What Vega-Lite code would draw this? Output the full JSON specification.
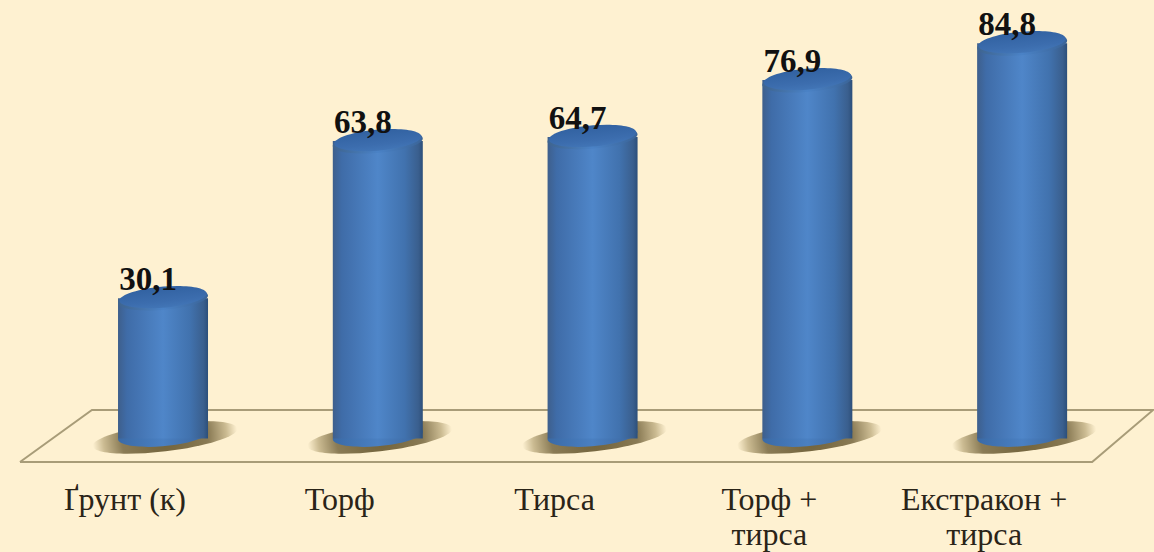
{
  "$schema": "https://vega.github.io/schema/vega-lite/v6.json",
  "width": 1154,
  "height": 552,
  "autosize": {"type": "none"},
  "padding": 0,
  "background": "#fef1d1",
  "config": {"view": {"stroke": null}},
  "datasets": {
    "bars": [
      {"category": "Ґрунт (к)", "pos": 0, "value": 30.1, "label": "30,1"},
      {"category": "Торф", "pos": 1, "value": 63.8, "label": "63,8"},
      {"category": "Тирса", "pos": 2, "value": 64.7, "label": "64,7"},
      {"category": "Торф +\nтирса", "pos": 3, "value": 76.9, "label": "76,9"},
      {"category": "Екстракон +\nтирса", "pos": 4, "value": 84.8, "label": "84,8"}
    ],
    "floor": [
      {"pos": -0.666, "level": -5.06, "step": 0},
      {"pos": 4.326, "level": -5.06, "step": 1},
      {"pos": 4.61, "level": 6.09, "step": 2},
      {"pos": -0.331, "level": 6.09, "step": 3},
      {"pos": -0.666, "level": -5.06, "step": 4}
    ]
  },
  "layer": [
    {
      "data": {"name": "floor"},
      "mark": {"type": "line", "color": "#a89c78", "strokeWidth": 2},
      "encoding": {
        "x": {"field": "pos", "type": "quantitative", "axis": null, "scale": {"domain": [-0.759, 4.614], "nice": false, "zero": false, "padding": 0}},
        "y": {"field": "level", "type": "quantitative", "axis": null, "scale": {"domain": [-24.38, 94.08], "nice": false, "zero": false, "padding": 0}},
        "order": {"field": "step", "type": "quantitative"}
      }
    },
    {
      "data": {"name": "bars"},
      "mark": {
        "type": "point", "filled": true, "opacity": 1, "size": 21000, "xOffset": 2, "yOffset": -1,
        "shape": "M-1,0.12 A1,0.19,-7,1,1,1,-0.12 A1,0.19,-7,1,1,-1,0.12 Z",
        "fill": {"gradient": "radial", "stops": [
          {"offset": 0, "color": "#6f6038"},
          {"offset": 0.6, "color": "#8a7b55"},
          {"offset": 0.85, "color": "#cbbb92"},
          {"offset": 1, "color": "#fef1d1"}
        ]}
      },
      "encoding": {
        "x": {"field": "pos", "type": "quantitative"},
        "y": {"datum": 0}
      }
    },
    {
      "data": {"name": "bars"},
      "mark": {
        "type": "point", "filled": true, "opacity": 1, "size": 8100, "yOffset": -3,
        "shape": "M-1,0.08 A1,0.24,-5,1,1,1,-0.08 A1,0.24,-5,1,1,-1,0.08 Z",
        "fill": {"gradient": "linear", "x1": 0, "x2": 1, "y1": 0, "y2": 0, "stops": [
          {"offset": 0, "color": "#3a6aa6"},
          {"offset": 0.5, "color": "#4a80c2"},
          {"offset": 1, "color": "#3a659c"}
        ]}
      },
      "encoding": {
        "x": {"field": "pos", "type": "quantitative"},
        "y": {"datum": 0}
      }
    },
    {
      "data": {"name": "bars"},
      "mark": {
        "type": "bar", "orient": "vertical", "width": 90,
        "fill": {"gradient": "linear", "x1": 0, "x2": 1, "y1": 0, "y2": 0, "stops": [
          {"offset": 0, "color": "#3e5f8c"},
          {"offset": 0.1, "color": "#3f6ca8"},
          {"offset": 0.5, "color": "#4f86c9"},
          {"offset": 0.8, "color": "#4172ae"},
          {"offset": 0.95, "color": "#3a5f8e"},
          {"offset": 1, "color": "#2c4f7a"}
        ]}
      },
      "encoding": {
        "x": {"field": "pos", "type": "quantitative"},
        "y": {"field": "value", "type": "quantitative"},
        "y2": {"datum": 0}
      }
    },
    {
      "data": {"name": "bars"},
      "mark": {
        "type": "point", "filled": true, "opacity": 1, "size": 8100, "yOffset": 1,
        "shape": "M-1,0.08 A1,0.24,-5,1,1,1,-0.08 A1,0.24,-5,1,1,-1,0.08 Z",
        "fill": {"gradient": "linear", "x1": 0, "x2": 1, "y1": 0, "y2": 0, "stops": [
          {"offset": 0, "color": "#3e648f"},
          {"offset": 0.5, "color": "#4a82c6"},
          {"offset": 1, "color": "#3a6498"}
        ]}
      },
      "encoding": {
        "x": {"field": "pos", "type": "quantitative"},
        "y": {"field": "value", "type": "quantitative"}
      }
    },
    {
      "data": {"name": "bars"},
      "mark": {
        "type": "point", "filled": true, "opacity": 1, "size": 7600, "yOffset": -1,
        "shape": "M-1,0.08 A1,0.24,-5,1,1,1,-0.08 A1,0.24,-5,1,1,-1,0.08 Z",
        "fill": {"gradient": "linear", "x1": 0.2, "x2": 0.6, "y1": 0, "y2": 1, "stops": [
          {"offset": 0, "color": "#2f5f9e"},
          {"offset": 0.7, "color": "#3c6dae"},
          {"offset": 1, "color": "#4377b8"}
        ]}
      },
      "encoding": {
        "x": {"field": "pos", "type": "quantitative"},
        "y": {"field": "value", "type": "quantitative"}
      }
    },
    {
      "data": {"name": "bars"},
      "mark": {
        "type": "text", "font": "Liberation Serif", "fontWeight": "bold", "fontSize": 33,
        "color": "#111111", "align": "center", "baseline": "middle", "dx": -15, "dy": -18
      },
      "encoding": {
        "x": {"field": "pos", "type": "quantitative"},
        "y": {"field": "value", "type": "quantitative"},
        "text": {"field": "label"}
      }
    },
    {
      "data": {"name": "bars"},
      "transform": [{"calculate": "split(datum.category, '\\n')", "as": "lines"}],
      "mark": {
        "type": "text", "font": "Liberation Serif", "fontSize": 32, "lineHeight": 35,
        "color": "#2a2418", "align": "center", "baseline": "top", "dx": -38
      },
      "encoding": {
        "x": {"field": "pos", "type": "quantitative"},
        "y": {"datum": -10.1},
        "text": {"field": "lines"}
      }
    }
  ]
}
